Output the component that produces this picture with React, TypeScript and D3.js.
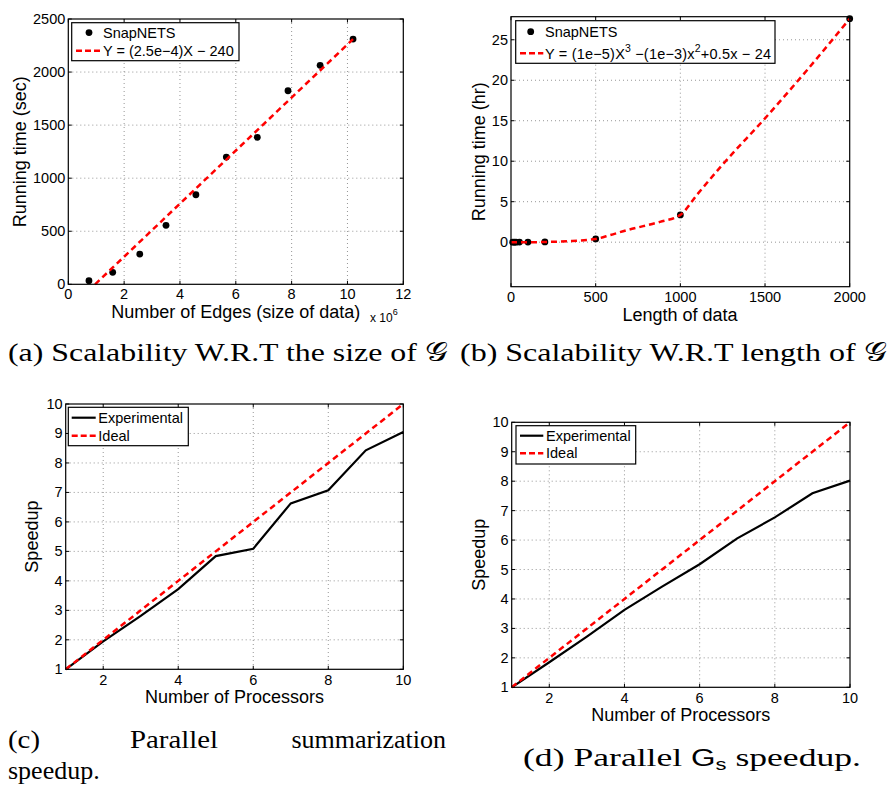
import React from 'react';
import * as d3 from 'd3';

// (a) running time vs. number of edges (x 10^6)
const edgesMillions = [0.74, 1.59, 2.56, 3.5, 4.57, 5.66, 6.77, 7.87, 9.02, 10.2];
const runSeconds = [34, 113, 285, 556, 844, 1199, 1385, 1824, 2063, 2311];
const fitEdgesMillions = [0.96, 10.2];
const fitSeconds = [0, 2310];

// (b) running time vs. length of data
const dataLength = [10, 20, 30, 50, 100, 200, 500, 1000, 2000];
const runHours = [0, 0, 0, 0.01, 0.01, 0.03, 0.4, 3.37, 27.6];
const fitLength = [0, 100, 200, 330, 500, 585, 683, 781, 880, 1000, 1100, 1250, 1500, 1750, 2000];
const fitHours = [0, 0, 0.02, 0.12, 0.4, 0.87, 1.48, 1.98, 2.51, 3.37, 5.9, 9.6, 15.3, 21.3, 27.6];

// (c), (d) speedup vs. number of processors
const processors = [1, 2, 3, 4, 5, 6, 7, 8, 9, 10];
const speedupSummarization = [1, 1.95, 2.81, 3.72, 4.84, 5.09, 6.63, 7.07, 8.43, 9.05];
const speedupGs = [1, 1.85, 2.72, 3.63, 4.42, 5.18, 6.06, 6.77, 7.59, 8.02];
const speedupIdeal = [1, 2, 3, 4, 5, 6, 7, 8, 9, 10];

const ticksEdges = [0, 2, 4, 6, 8, 10, 12];
const ticksSeconds = [0, 500, 1000, 1500, 2000, 2500];
const ticksLength = [0, 500, 1000, 1500, 2000];
const ticksHours = [0, 5, 10, 15, 20, 25];
const ticksProcX = [2, 4, 6, 8, 10];
const ticksProcY = [1, 2, 3, 4, 5, 6, 7, 8, 9, 10];

const SANS = '"Liberation Sans", Arial, Helvetica, sans-serif';
const SERIF = '"Liberation Serif", "DejaVu Serif", serif';
const RED = '#ff0000';
const TICK_FS = 14.5;
const TITLE_FS = 18;
const LEGEND_FS = 14.5;

type Box = { left: number; right: number; top: number; bottom: number };
type Scale = d3.ScaleLinear<number, number>;

function Frame(props: {
  box: Box;
  x: Scale;
  y: Scale;
  xTicks: number[];
  yTicks: number[];
  xLabelDy: number;
}) {
  const { box, x, y, xTicks, yTicks, xLabelDy } = props;
  const tl = 3.5;
  const gridX = xTicks.filter((t) => Math.abs(x(t) - box.left) > 1 && Math.abs(x(t) - box.right) > 1);
  const gridY = yTicks.filter((t) => Math.abs(y(t) - box.top) > 1 && Math.abs(y(t) - box.bottom) > 1);
  return (
    <g>
      <rect x={box.left} y={box.top} width={box.right - box.left} height={box.bottom - box.top} fill="#fff" />
      {gridX.map((t) => (
        <line key={'gx' + t} x1={x(t)} x2={x(t)} y1={box.top} y2={box.bottom} stroke="#8a8a8a" strokeWidth={0.9} strokeDasharray="1,3" />
      ))}
      {gridY.map((t) => (
        <line key={'gy' + t} x1={box.left} x2={box.right} y1={y(t)} y2={y(t)} stroke="#8a8a8a" strokeWidth={0.9} strokeDasharray="1,3" />
      ))}
      {xTicks.map((t) => (
        <g key={'tx' + t}>
          <line x1={x(t)} x2={x(t)} y1={box.bottom} y2={box.bottom - tl} stroke="#000" />
          <line x1={x(t)} x2={x(t)} y1={box.top} y2={box.top + tl} stroke="#000" />
          <text x={x(t)} y={box.bottom + xLabelDy} fontSize={TICK_FS} fontFamily={SANS} textAnchor="middle">{t}</text>
        </g>
      ))}
      {yTicks.map((t) => (
        <g key={'ty' + t}>
          <line x1={box.left} x2={box.left + tl} y1={y(t)} y2={y(t)} stroke="#000" />
          <line x1={box.right} x2={box.right - tl} y1={y(t)} y2={y(t)} stroke="#000" />
          <text x={box.left - 3} y={y(t)} fontSize={TICK_FS} fontFamily={SANS} textAnchor="end" dominantBaseline="central">{t}</text>
        </g>
      ))}
    </g>
  );
}

function BoxOutline({ box }: { box: Box }) {
  return <rect x={box.left} y={box.top} width={box.right - box.left} height={box.bottom - box.top} fill="none" stroke="#000" strokeWidth={1.2} />;
}

function YTitle({ x, y, text }: { x: number; y: number; text: string }) {
  return (
    <text transform={`translate(${x},${y}) rotate(-90)`} fontSize={TITLE_FS} fontFamily={SANS} textAnchor="middle" dominantBaseline="central">{text}</text>
  );
}

export default function App() {
  // panel (a)
  const boxA: Box = { left: 68.3, right: 403.3, top: 19, bottom: 284.3 };
  const xA = d3.scaleLinear().domain([0, 12]).range([boxA.left, boxA.right]);
  const yA = d3.scaleLinear().domain([0, 2500]).range([boxA.bottom, boxA.top]);
  const fitA = d3.line<number>().x((d, i) => xA(fitEdgesMillions[i])).y((d) => yA(d))(fitSeconds) || '';

  // panel (b)
  const boxB: Box = { left: 511, right: 849.7, top: 16.7, bottom: 286.7 };
  const xB = d3.scaleLinear().domain([0, 2000]).range([boxB.left, boxB.right]);
  const yB = d3.scaleLinear().domain([-5.5, 27.85]).range([boxB.bottom, boxB.top]);
  const fitB = d3.line<number>().x((d, i) => xB(fitLength[i])).y((d) => yB(d)).curve(d3.curveMonotoneX)(fitHours) || '';

  // panel (c)
  const boxC: Box = { left: 65.7, right: 403.3, top: 404, bottom: 669.3 };
  const xC = d3.scaleLinear().domain([1, 10]).range([boxC.left, boxC.right]);
  const yC = d3.scaleLinear().domain([1, 10]).range([boxC.bottom, boxC.top]);
  const expC = d3.line<number>().x((d, i) => xC(processors[i])).y((d) => yC(d))(speedupSummarization) || '';
  const idealC = d3.line<number>().x((d, i) => xC(processors[i])).y((d) => yC(d))(speedupIdeal) || '';

  // panel (d)
  const boxD: Box = { left: 511.7, right: 850, top: 422.3, bottom: 687.3 };
  const xD = d3.scaleLinear().domain([1, 10]).range([boxD.left, boxD.right]);
  const yD = d3.scaleLinear().domain([1, 10]).range([boxD.bottom, boxD.top]);
  const expD = d3.line<number>().x((d, i) => xD(processors[i])).y((d) => yD(d))(speedupGs) || '';
  const idealD = d3.line<number>().x((d, i) => xD(processors[i])).y((d) => yD(d))(speedupIdeal) || '';

  return (
    <svg width={889} height={789} style={{ position: 'absolute', left: 0, top: 0, background: '#fff' }}>
      <rect width={889} height={789} fill="#fff" />

      {/* (a) */}
      <Frame box={boxA} x={xA} y={yA} xTicks={ticksEdges} yTicks={ticksSeconds} xLabelDy={15} />
      {edgesMillions.map((e, i) => (
        <circle key={'pa' + i} cx={xA(e)} cy={yA(runSeconds[i])} r={3.4} fill="#000" />
      ))}
      <path d={fitA} fill="none" stroke={RED} strokeWidth={2.5} strokeDasharray="6,4" />
      <BoxOutline box={boxA} />
      <g>
        <rect x={71.7} y={22.7} width={167.3} height={38} fill="#fff" stroke="#000" strokeWidth={1.2} />
        <circle cx={89} cy={32.6} r={3.4} fill="#000" />
        <text x={103} y={32.6} fontSize={LEGEND_FS} fontFamily={SANS} dominantBaseline="central">SnapNETS</text>
        <line x1={76} x2={100} y1={50.7} y2={50.7} stroke={RED} strokeWidth={2.5} strokeDasharray="6,3" />
        <text x={103} y={50.7} fontSize={LEGEND_FS} fontFamily={SANS} dominantBaseline="central">Y = (2.5e−4)X − 240</text>
      </g>
      <text x={235.8} y={318} fontSize={TITLE_FS} fontFamily={SANS} textAnchor="middle">Number of Edges (size of data)</text>
      <text x={370} y={322} fontSize={12} fontFamily={SANS}>x 10<tspan fontSize={9} dy={-7}>6</tspan></text>
      <YTitle x={20} y={151.7} text="Running time (sec)" />

      {/* (b) */}
      <Frame box={boxB} x={xB} y={yB} xTicks={ticksLength} yTicks={ticksHours} xLabelDy={15.5} />
      {dataLength.map((l, i) => (
        <circle key={'pb' + i} cx={xB(l)} cy={yB(runHours[i])} r={3.4} fill="#000" />
      ))}
      <path d={fitB} fill="none" stroke={RED} strokeWidth={2.5} strokeDasharray="6,4" />
      <BoxOutline box={boxB} />
      <g>
        <rect x={515.7} y={20.7} width={259.3} height={42.6} fill="#fff" stroke="#000" strokeWidth={1.2} />
        <circle cx={530.7} cy={31.7} r={3.4} fill="#000" />
        <text x={545} y={31.7} fontSize={LEGEND_FS} fontFamily={SANS} dominantBaseline="central">SnapNETS</text>
        <line x1={520} x2={543.3} y1={53.3} y2={53.3} stroke={RED} strokeWidth={2.5} strokeDasharray="6,3" />
        <text x={545} y={58.5} fontSize={LEGEND_FS} fontFamily={SANS} textLength={226} lengthAdjust="spacing">
          Y = (1e−5)X<tspan fontSize={10.5} dy={-7}>3</tspan><tspan dy={7}> −(1e−3)x</tspan><tspan fontSize={10.5} dy={-7}>2</tspan><tspan dy={7}>+0.5x − 24</tspan>
        </text>
      </g>
      <text x={680} y={321} fontSize={TITLE_FS} fontFamily={SANS} textAnchor="middle">Length of data</text>
      <YTitle x={479} y={151.7} text="Running time (hr)" />

      {/* (c) */}
      <Frame box={boxC} x={xC} y={yC} xTicks={ticksProcX} yTicks={ticksProcY} xLabelDy={16} />
      <path d={expC} fill="none" stroke="#000" strokeWidth={2.2} />
      <path d={idealC} fill="none" stroke={RED} strokeWidth={2.5} strokeDasharray="6,4" />
      <BoxOutline box={boxC} />
      <g>
        <rect x={68.3} y={407.3} width={120} height={38.4} fill="#fff" stroke="#000" strokeWidth={1.2} />
        <line x1={71.7} x2={95.7} y1={417.7} y2={417.7} stroke="#000" strokeWidth={2.2} />
        <text x={98.3} y={417.7} fontSize={LEGEND_FS} fontFamily={SANS} dominantBaseline="central">Experimental</text>
        <line x1={71.7} x2={95.7} y1={435.7} y2={435.7} stroke={RED} strokeWidth={2.5} strokeDasharray="6,3" />
        <text x={98.3} y={435.7} fontSize={LEGEND_FS} fontFamily={SANS} dominantBaseline="central">Ideal</text>
      </g>
      <text x={234.5} y={703} fontSize={TITLE_FS} fontFamily={SANS} textAnchor="middle">Number of Processors</text>
      <YTitle x={32} y={536.6} text="Speedup" />

      {/* (d) */}
      <Frame box={boxD} x={xD} y={yD} xTicks={ticksProcX} yTicks={ticksProcY} xLabelDy={16} />
      <path d={expD} fill="none" stroke="#000" strokeWidth={2.2} />
      <path d={idealD} fill="none" stroke={RED} strokeWidth={2.5} strokeDasharray="6,4" />
      <BoxOutline box={boxD} />
      <g>
        <rect x={516} y={425.7} width={119.7} height={38.3} fill="#fff" stroke="#000" strokeWidth={1.2} />
        <line x1={520} x2={543.3} y1={435.7} y2={435.7} stroke="#000" strokeWidth={2.2} />
        <text x={546} y={435.7} fontSize={LEGEND_FS} fontFamily={SANS} dominantBaseline="central">Experimental</text>
        <line x1={520} x2={543.3} y1={453.3} y2={453.3} stroke={RED} strokeWidth={2.5} strokeDasharray="6,3" />
        <text x={546} y={453.3} fontSize={LEGEND_FS} fontFamily={SANS} dominantBaseline="central">Ideal</text>
      </g>
      <text x={680.8} y={721} fontSize={TITLE_FS} fontFamily={SANS} textAnchor="middle">Number of Processors</text>
      <YTitle x={479} y={554.8} text="Speedup" />

      {/* captions */}
      <text x={8} y={361} fontSize={26} fontFamily={SERIF} textLength={440} lengthAdjust="spacingAndGlyphs">(a) Scalability W.R.T the size of 𝒢</text>
      <text x={460} y={361} fontSize={26} fontFamily={SERIF} textLength={427} lengthAdjust="spacingAndGlyphs">(b) Scalability W.R.T length of 𝒢</text>
      <text x={8} y={748} fontSize={26} fontFamily={SERIF} textLength={32} lengthAdjust="spacingAndGlyphs">(c)</text>
      <text x={130} y={748} fontSize={26} fontFamily={SERIF} textLength={88} lengthAdjust="spacingAndGlyphs">Parallel</text>
      <text x={446} y={748} fontSize={26} fontFamily={SERIF} textAnchor="end">summarization</text>
      <text x={8} y={779} fontSize={26} fontFamily={SERIF}>speedup.</text>
      <text x={523} y={766} fontSize={26} fontFamily={SERIF} textLength={338} lengthAdjust="spacingAndGlyphs">
        (d) Parallel <tspan fontFamily={SANS} fontSize={23}>G</tspan><tspan fontFamily={SANS} fontSize={16} dy={4}>s</tspan><tspan dy={-4}> speedup.</tspan>
      </text>
    </svg>
  );
}
